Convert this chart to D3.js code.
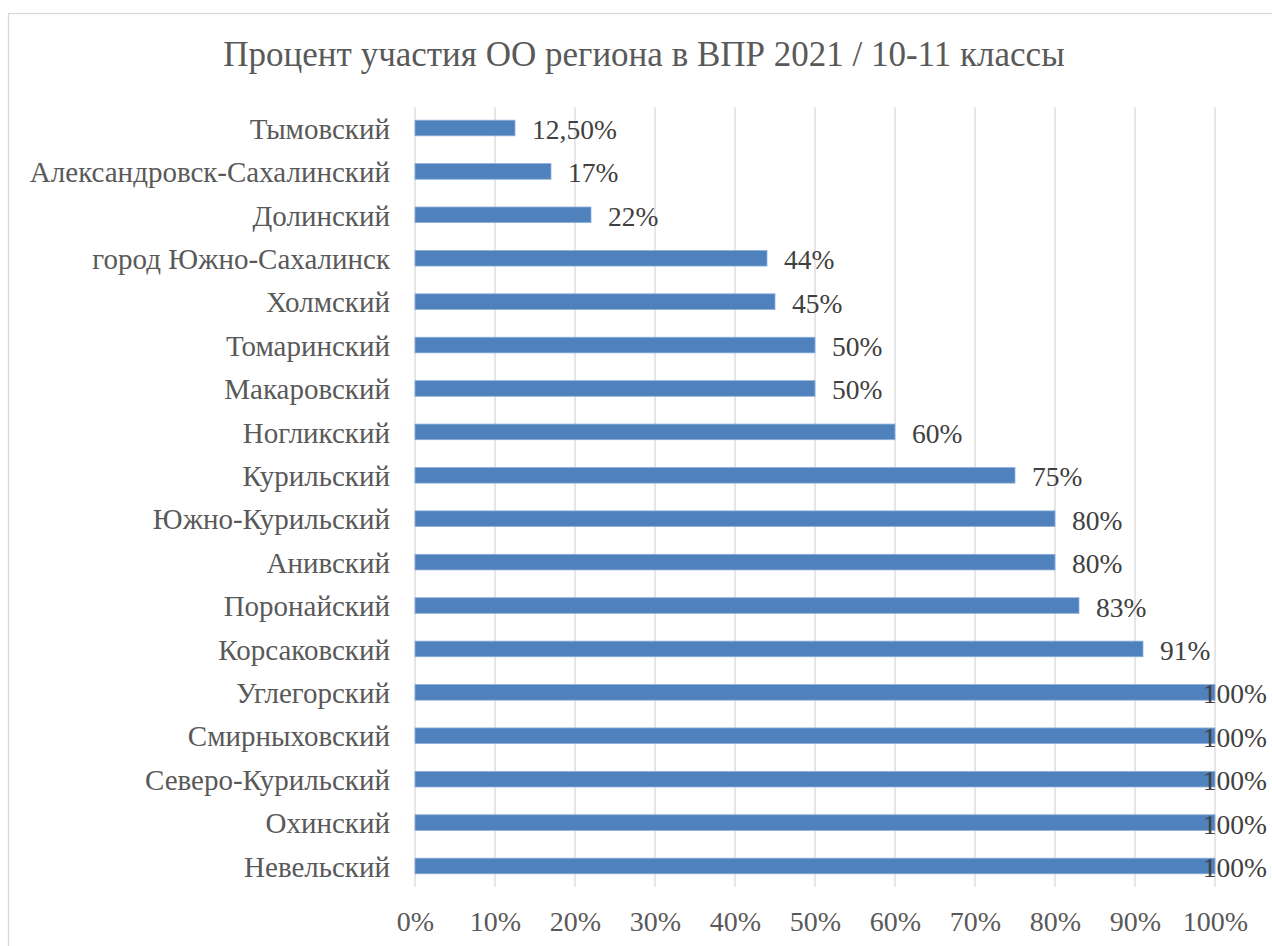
<!DOCTYPE html>
<html><head><meta charset="utf-8">
<script src="https://cdn.jsdelivr.net/npm/d3@7"></script>
<style>body{margin:0;background:#fff;} svg{display:block;}</style>
</head><body>
<svg id="c" width="1272" height="946"></svg>
<script>
const categories = ["Тымовский","Александровск-Сахалинский","Долинский","город Южно-Сахалинск","Холмский","Томаринский","Макаровский","Ногликский","Курильский","Южно-Курильский","Анивский","Поронайский","Корсаковский","Углегорский","Смирныховский","Северо-Курильский","Охинский","Невельский"];
const values = [12.5,17,22,44,45,50,50,60,75,80,80,83,91,100,100,100,100,100];
const valueLabels = ["12,50%","17%","22%","44%","45%","50%","50%","60%","75%","80%","80%","83%","91%","100%","100%","100%","100%","100%"];
const ticks = [0,10,20,30,40,50,60,70,80,90,100];
const title = "Процент участия ОО региона в ВПР 2021 / 10-11 классы";

const FONT = "'Liberation Serif','Times New Roman',Tinos,serif";
const svg = d3.select("#c");
const W = 1272, H = 946;
const plot = {left:415, right:1215, top:106.3, bottom:887.7};

svg.append("rect").attr("x",8.5).attr("y",13.5).attr("width",W+20).attr("height",H+20)
  .attr("fill","#fff").attr("stroke","#D9D9D9").attr("stroke-width",1.3);

svg.append("text").attr("x",644).attr("y",66).attr("text-anchor","middle")
  .style("font-family",FONT).style("font-size","35px").attr("fill","#595959").text(title);

const x = d3.scaleLinear().domain([0,100]).range([plot.left, plot.right]);
const y = d3.scaleBand().domain(categories).range([plot.top, plot.bottom]).paddingInner(0.64).paddingOuter(0.32);

svg.append("g").selectAll("line").data(ticks).join("line")
  .attr("x1",d=>x(d)).attr("x2",d=>x(d)).attr("y1",plot.top+1).attr("y2",plot.bottom-1)
  .attr("stroke","#D9D9D9").attr("stroke-width",1.3);

const xAxis = d3.axisBottom(x).tickValues(ticks).tickFormat(d=>d+"%").tickSize(0).tickPadding(0);
const gx = svg.append("g").attr("transform",`translate(0,${plot.bottom})`).call(xAxis);
gx.select(".domain").remove();
gx.selectAll("text").style("font-family",FONT).style("font-size","28px").attr("fill","#595959")
  .attr("dy",null).attr("y",43);

const yAxis = d3.axisLeft(y).tickSize(0).tickPadding(25);
const gy = svg.append("g").attr("transform",`translate(${plot.left},0)`).call(yAxis);
gy.select(".domain").remove();
gy.selectAll("text").style("font-family",FONT).style("font-size","29px").attr("fill","#595959").attr("dy","0.37em");

svg.append("g").selectAll("rect").data(categories).join("rect")
  .attr("x",x(0)).attr("y",(d)=>y(d)).attr("height",y.bandwidth())
  .attr("width",(d,i)=>x(values[i])-x(0))
  .attr("fill","#4F81BD").attr("stroke","#8EB0DA").attr("stroke-width",0.8);

const lbl = svg.append("g").selectAll("text").data(categories).join("text")
  .style("font-family",FONT).style("font-size","27.5px").attr("fill","#404040")
  .attr("y",d=>y(d)+y.bandwidth()/2).attr("dy","0.4em")
  .text((d,i)=>valueLabels[i]);
lbl.each(function(d,i){
  const w = this.getComputedTextLength();
  let px = x(values[i]) + 17;
  if (px + w > W - 5) px = W - 5 - w;
  d3.select(this).attr("x",px);
});
</script>
</body></html>
